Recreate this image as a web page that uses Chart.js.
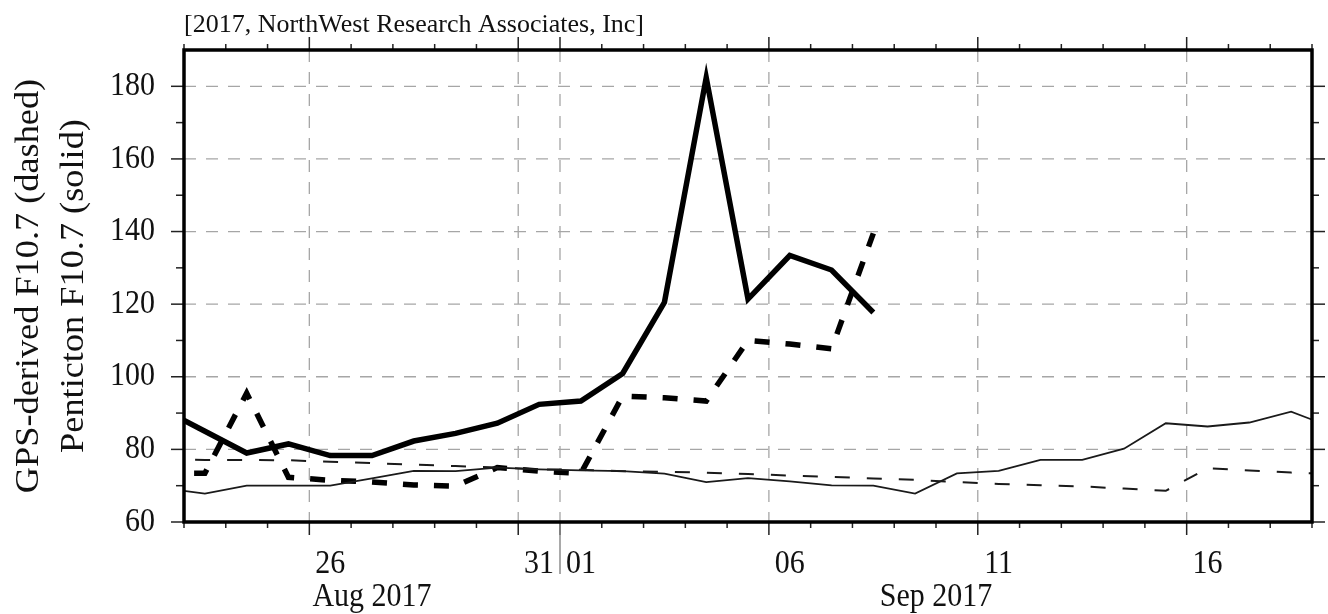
<!DOCTYPE html>
<html>
<head>
<meta charset="utf-8">
<script src="https://cdn.jsdelivr.net/npm/chart.js@4.4.1/dist/chart.umd.min.js"></script>
<style>
  html, body { margin: 0; padding: 0; background: #fff; }
</style>
</head>
<body>
<canvas id="f107" width="1328" height="614"></canvas>
<script>
// daily values, plotted at noon of each date
const dates = [
  '2017-08-22', '2017-08-23', '2017-08-24', '2017-08-25', '2017-08-26', '2017-08-27',
  '2017-08-28', '2017-08-29', '2017-08-30', '2017-08-31', '2017-09-01', '2017-09-02',
  '2017-09-03', '2017-09-04', '2017-09-05', '2017-09-06', '2017-09-07', '2017-09-08',
  '2017-09-09', '2017-09-10', '2017-09-11', '2017-09-12', '2017-09-13', '2017-09-14',
  '2017-09-15', '2017-09-16', '2017-09-17', '2017-09-18', '2017-09-19'
];
const pentictonDaily = [91, 85, 79, 81.5, 78.3, 78.3, 82.3, 84.4, 87.2, 92.4, 93.3, 100.9,
  120.5, 182.4, 121.4, 133.4, 129.4, 117.7];
const gpsDaily = [73.4, 73.4, 95.5, 72.3, 71.5, 71, 70.2, 69.9, 75, 74, 73.4, 94.7,
  94.2, 93.3, 110, 109, 107.7, 139.5];
const pentictonMean = [69.3, 67.8, 70, 70, 70, 72, 74.1, 74, 75, 74.5, 74.2, 74,
  73.3, 71, 72.1, 71.2, 70.1, 70, 67.8, 73.4, 74.1, 77.1, 77.1, 80.2,
  87.2, 86.3, 87.4, 90.4, 86];
const gpsMean = [77.2, 77.1, 77.1, 77, 76.6, 76.2, 75.8, 75.4, 75, 74.5, 74.4, 74,
  73.8, 73.6, 73.2, 72.8, 72.4, 72, 71.6, 71, 70.5, 70.1, 69.8, 69.2,
  68.6, 74.8, 74.2, 73.6, 73.2];

const xStart = '2017-08-23';
const xEnd = '2017-09-19';
const yTicks = [60, 80, 100, 120, 140, 160, 180];
const yMinorTicks = [70, 90, 110, 130, 150, 170];
const gridDays = ['2017-08-26', '2017-08-31', '2017-09-01', '2017-09-06', '2017-09-11', '2017-09-16'];
const dayLabels = ['26', '31', '01', '06', '11', '16'];
const monthStarts = ['2017-08-01', '2017-09-01'];
const monthLabels = ['Aug 2017', 'Sep 2017'];
const titleText = '[2017, NorthWest Research Associates, Inc]';
const yTitle = ['GPS-derived F10.7 (dashed)', 'Penticton F10.7 (solid)'];

// day number counted from 31 Jul 2017 (Aug 1 = 1, Sep 1 = 32)
function dayNum(s) {
  const [y, m, d] = s.split('-').map(Number);
  return (Date.UTC(y, m - 1, d) - Date.UTC(2017, 6, 31)) / 86400000;
}
function pts(values) {
  return values.map((v, i) => ({ x: dayNum(dates[i]) + 0.5, y: v }));
}

const FONT = '"Liberation Serif", "Times New Roman", serif';
const SY = 1.1; // reference text is slightly taller than wide

function txt(ctx, s, x, y, size, align, base, rot, sy) {
  ctx.save();
  ctx.translate(x, y);
  ctx.scale(1, sy || SY);
  if (rot) ctx.rotate(rot);
  ctx.font = size + 'px ' + FONT;
  ctx.textAlign = align;
  ctx.textBaseline = base;
  ctx.fillStyle = '#111';
  ctx.fillText(s, 0, 0);
  ctx.restore();
}
function seg(ctx, x1, y1, x2, y2) {
  ctx.beginPath();
  ctx.moveTo(x1, y1);
  ctx.lineTo(x2, y2);
  ctx.stroke();
}

const gmtAxes = {
  id: 'gmtAxes',
  beforeDatasetsDraw(chart) {
    const { ctx, chartArea: a, scales: { x, y } } = chart;
    ctx.save();
    ctx.strokeStyle = '#a6a6a6';
    ctx.lineWidth = 1.3;
    ctx.setLineDash([12, 10]);
    yTicks.slice(1).forEach(v => {
      const py = y.getPixelForValue(v);
      seg(ctx, a.left, py, a.right, py);
    });
    gridDays.forEach(d => {
      const px = x.getPixelForValue(dayNum(d));
      seg(ctx, px, a.top, px, a.bottom);
    });
    ctx.restore();
  },
  afterDatasetsDraw(chart) {
    const { ctx, chartArea: a, scales: { x, y } } = chart;
    ctx.save();
    // ticks
    ctx.strokeStyle = '#222';
    ctx.lineWidth = 1.5;
    const majors = gridDays.map(dayNum);
    for (let d = dayNum(xStart); d <= dayNum(xEnd); d++) {
      const px = x.getPixelForValue(d);
      const len = majors.includes(d) ? 13 : 6;
      seg(ctx, px, a.bottom, px, a.bottom + len);
      seg(ctx, px, a.top, px, a.top - len);
    }
    yTicks.forEach(v => {
      const py = y.getPixelForValue(v);
      seg(ctx, a.left - 13, py, a.left, py);
      seg(ctx, a.right, py, a.right + 13, py);
    });
    yMinorTicks.forEach(v => {
      const py = y.getPixelForValue(v);
      seg(ctx, a.left - 8, py, a.left, py);
      seg(ctx, a.right, py, a.right + 7, py);
    });
    // month separator
    ctx.strokeStyle = '#8c8c8c';
    const sep = x.getPixelForValue(dayNum(monthStarts[1]));
    seg(ctx, sep, a.bottom, sep, a.bottom + 52);
    // frame
    ctx.strokeStyle = '#000';
    ctx.lineWidth = 3.5;
    ctx.strokeRect(a.left, a.top, a.right - a.left, a.bottom - a.top);

    // labels
    yTicks.forEach(v => txt(ctx, String(v), a.left - 29, y.getPixelForValue(v), 30, 'right', 'middle'));
    gridDays.forEach((d, i) => {
      txt(ctx, dayLabels[i], x.getPixelForValue(dayNum(d) + 0.5), a.bottom + 51, 30, 'center', 'alphabetic');
    });
    const lo = dayNum(xStart), hi = dayNum(xEnd);
    monthStarts.forEach((m, i) => {
      const s = Math.max(lo, dayNum(m));
      const e = i + 1 < monthStarts.length ? Math.min(hi, dayNum(monthStarts[i + 1])) : hi;
      txt(ctx, monthLabels[i], x.getPixelForValue((s + e) / 2), a.bottom + 84, 30, 'center', 'alphabetic');
    });
    txt(ctx, titleText, a.left, a.top - 18, 26, 'left', 'alphabetic', 0, 0.97);
    const midY = (a.top + a.bottom) / 2;
    txt(ctx, yTitle[0], 29, midY, 33, 'center', 'middle', -Math.PI / 2);
    txt(ctx, yTitle[1], 74, midY, 33, 'center', 'middle', -Math.PI / 2);
    ctx.restore();
  }
};

const lineBase = { pointRadius: 0, tension: 0, fill: false, clip: 0 };

new Chart(document.getElementById('f107'), {
  type: 'line',
  data: {
    datasets: [
      Object.assign({ label: 'GPS-derived F10.7 (mean)', data: pts(gpsMean),
        borderColor: '#1a1a1a', borderWidth: 2, borderDash: [15, 17] }, lineBase),
      Object.assign({ label: 'Penticton F10.7 (mean)', data: pts(pentictonMean),
        borderColor: '#1a1a1a', borderWidth: 1.8 }, lineBase),
      Object.assign({ label: 'GPS-derived F10.7 (dashed)', data: pts(gpsDaily),
        borderColor: '#000', borderWidth: 5.5, borderDash: [15, 16] }, lineBase),
      Object.assign({ label: 'Penticton F10.7 (solid)', data: pts(pentictonDaily),
        borderColor: '#000', borderWidth: 5.5 }, lineBase)
    ]
  },
  options: {
    responsive: false,
    animation: false,
    devicePixelRatio: 1,
    layout: { padding: { left: 184, right: 16, top: 50, bottom: 92 } },
    plugins: { legend: { display: false }, tooltip: { enabled: false } },
    scales: {
      x: { type: 'linear', display: false, min: dayNum(xStart), max: dayNum(xEnd) },
      y: { type: 'linear', display: false, min: 60, max: 190 }
    }
  },
  plugins: [gmtAxes]
});
</script>
</body>
</html>
